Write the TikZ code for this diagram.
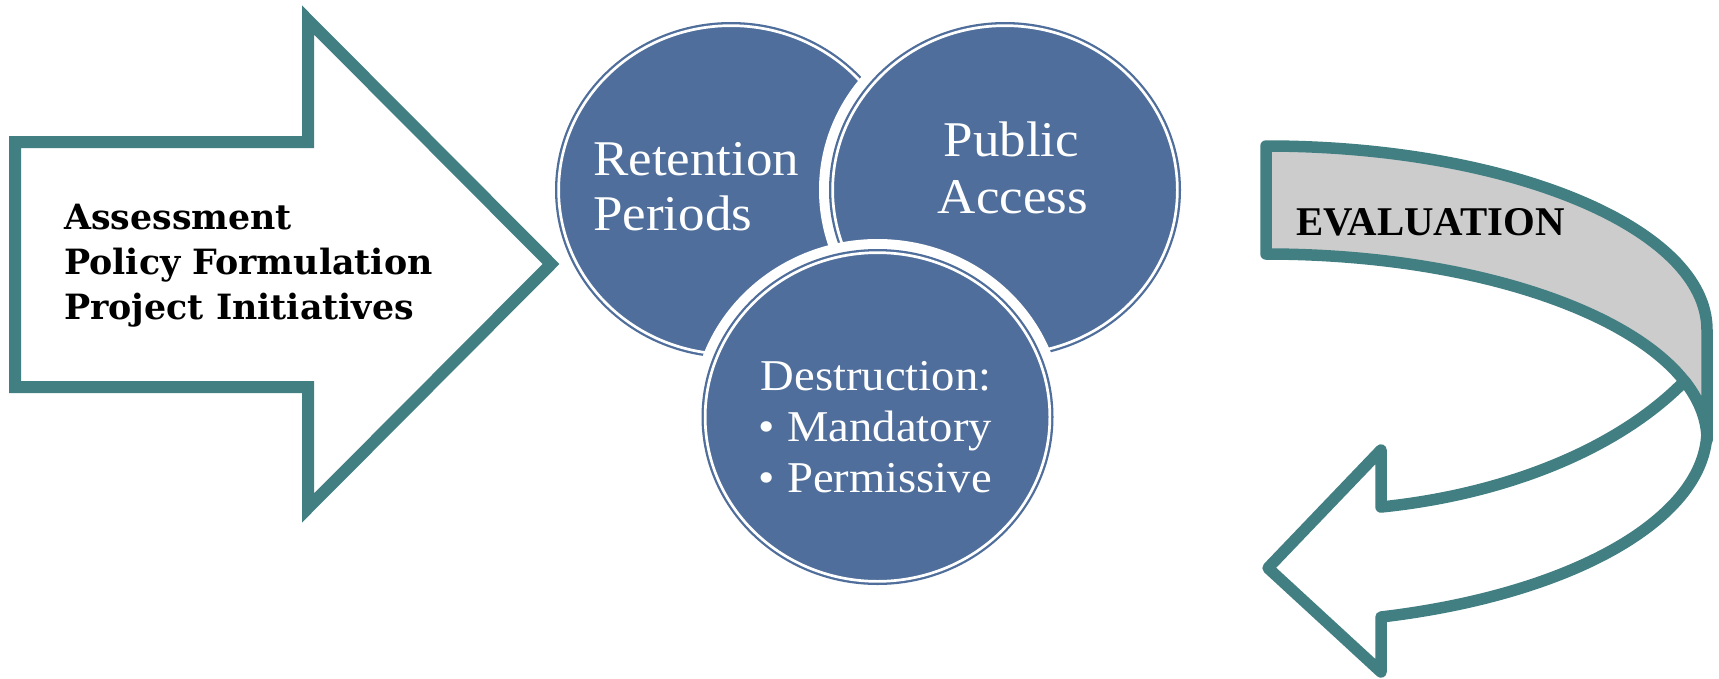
\documentclass[tikz,border=0pt]{standalone}
\usepackage{fontspec}
\usetikzlibrary{shapes.geometric}
\newfontfamily\bubblefont[FakeStretch=1.06]{Liberation Serif}
\newfontfamily\stagefont{DejaVu Serif}
\newfontfamily\evalfont{Liberation Serif}

\definecolor{arrowteal}{RGB}{66,127,131}
\definecolor{backgray}{RGB}{204,204,204}
\definecolor{bubbleblue}{RGB}{79,110,155}

\begin{document}
\begin{tikzpicture}[x=1pt, y=-1pt,
  bigarrow/.style={draw=arrowteal, line width=12pt, fill=white, line join=miter},
  turnarrow/.style={draw=arrowteal, line width=11.5pt, line join=round},
  stagetext/.style={anchor=base west, inner sep=0pt, text=black,
    font=\stagefont\bfseries\fontsize{34.8}{40}\selectfont},
  bubble/.style={ellipse, minimum width=344.7pt, minimum height=328.7pt, inner sep=0pt,
    fill=bubbleblue, draw=bubbleblue, line width=2.3pt, double=white, double distance=2.7pt},
  halo/.style={fill=white},
  bigtext/.style={inner sep=0pt, text=white, font=\bubblefont\fontsize{50}{56}\selectfont},
  subtext/.style={inner sep=0pt, text=white, font=\bubblefont\fontsize{44}{51}\selectfont},
  evaltext/.style={anchor=base west, inner sep=0pt, text=black,
    font=\evalfont\bfseries\fontsize{40.8}{46}\selectfont}]

\useasboundingbox (0,0) rectangle (1719,678);

% block arrow on the left
\draw[bigarrow] (15,142) -- (308,142) -- (308,20) -- (551,264) -- (308,508)
  -- (308,387) -- (15,387) -- cycle;
\node[stagetext] (assess) at (64,229.3) {Assessment};
\node[stagetext] (policy) at (64,274.3) {Policy Formulation};
\node[stagetext] (project) at (64,319) {Project Initiatives};

% three overlapping bubbles
\coordinate (c1) at (731,190);
\coordinate (c2) at (1005,190);
\coordinate (c3) at (877.5,417);

\node[bubble] (retention) at (c1) {};
\fill[halo] (c2) ellipse [x radius=186pt, y radius=178pt];
\node[bubble] (access) at (c2) {};
\fill[halo] (c3) ellipse [x radius=186pt, y radius=178pt];
\node[bubble] (destruction) at (c3) {};

\node[bigtext, anchor=base west] (ret1) at (593,175) {Retention};
\node[bigtext, anchor=base west] (ret2) at (593,230.7) {Periods};
\node[bigtext, anchor=base] (pub1) at (1011.5,156.7) {Public};
\node[bigtext, anchor=base] (pub2) at (1013,213.3) {Access};

\node[subtext, anchor=base west] (des1) at (760.7,390.7) {Destruction:};
\node[subtext, anchor=base] (bul1) at (766.3,441.7) {\textbullet};
\node[subtext, anchor=base west] (des2) at (787,441.7) {Mandatory};
\node[subtext, anchor=base] (bul2) at (766.3,492.7) {\textbullet};
\node[subtext, anchor=base west] (des3) at (787,492.7) {Permissive};

% curved return arrow: back face of the band
\draw[turnarrow, fill=backgray] (1266,146) .. controls (1509.6,146) and (1707,228.4) .. (1707,330)
  -- (1707,440) .. controls (1707,337.3) and (1509.6,254) .. (1266,254) -- cycle;
\coordinate (fold) at (1684.5,381.2);
% front face with the arrow head
\draw[turnarrow, fill=white] (1707,430) .. controls (1707,517.7) and (1573.5,594.4) .. (1381,617)
  -- (1381,672) -- (1268,568) -- (1381,450) -- (1381,507)
  .. controls (1500,495) and (1615,452) .. (fold)
  .. controls (1699.1,399.7) and (1707,419.5) .. (1707,440) -- cycle;
\node[evaltext] (eval) at (1296,235) {EVALUATION};

\end{tikzpicture}
\end{document}
